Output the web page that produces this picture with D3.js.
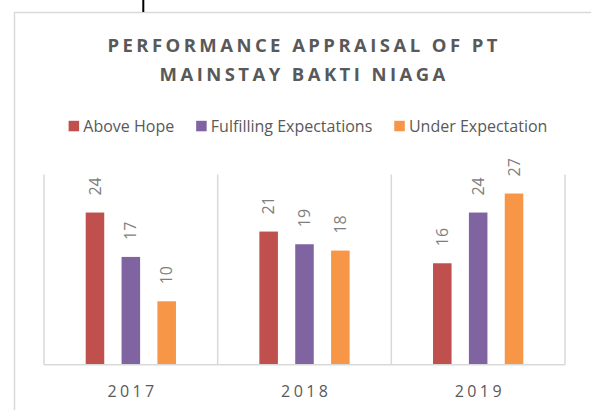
<!DOCTYPE html>
<html>
<head>
<meta charset="utf-8">
<script src="https://cdn.jsdelivr.net/npm/d3@7"></script>
<style>
	html, body { margin: 0; padding: 0; background: #fff; }
	svg { display: block; font-family: 'Open Sans', sans-serif; }
</style>
</head>
<body>
<div id="chart"></div>
<script>
const years = ['2017', '2018', '2019'];
const seriesNames = ['Above Hope', 'Fulfilling Expectations', 'Under Expectation'];
const aboveHope = [24, 21, 16];
const fulfilling = [17, 19, 24];
const underExpectation = [10, 18, 27];
const titleLines = ['PERFORMANCE APPRAISAL OF PT', 'MAINSTAY BAKTI NIAGA'];
const colors = ['#c0504d', '#8064a2', '#f79646'];

const W = 591;
const H = 410;

const svg = d3.select('#chart').append('svg').attr('width', W).attr('height', H);

// chart frame (runs off the right and bottom edge)
svg.append('rect')
	.attr('x', 14.5)
	.attr('y', 12.5)
	.attr('width', 640)
	.attr('height', 440)
	.attr('fill', '#fff')
	.attr('stroke', '#d9d9d9')
	.attr('stroke-width', 1.5);

// text cursor above the frame
svg.append('rect').attr('x', 142.3).attr('y', 0).attr('width', 2).attr('height', 12).attr('fill', '#000');

const plot = { left: 44, right: 565, top: 174.5, bottom: 364.7 };

const x0 = d3.scaleBand().domain(years).range([plot.left, plot.right]).paddingInner(0).paddingOuter(0);
const x1 = d3
	.scaleBand()
	.domain(seriesNames)
	.range([41.7, x0.bandwidth() - 41.7])
	.paddingInner(0.483)
	.paddingOuter(0);
const y = d3.scaleLinear().domain([0, 30]).range([plot.bottom, plot.top]);

const rows = years.map((yr, i) => ({
	year: yr,
	values: [aboveHope[i], fulfilling[i], underExpectation[i]].map((v, j) => ({ key: seriesNames[j], value: v, color: colors[j] }))
}));

// vertical separators
const seps = years.map((d) => x0(d)).concat([plot.right]);
svg.selectAll('.sep')
	.data(seps)
	.enter()
	.append('line')
	.attr('class', 'sep')
	.attr('x1', (d) => d)
	.attr('x2', (d) => d)
	.attr('y1', plot.top)
	.attr('y2', plot.bottom)
	.attr('stroke', '#d9d9d9')
	.attr('stroke-width', 1.5);

const groups = svg.selectAll('.grp')
	.data(rows)
	.enter()
	.append('g')
	.attr('class', 'grp')
	.attr('transform', (d) => `translate(${x0(d.year)},0)`);

groups.selectAll('rect')
	.data((d) => d.values)
	.enter()
	.append('rect')
	.attr('x', (d) => x1(d.key))
	.attr('y', (d) => y(d.value))
	.attr('width', x1.bandwidth())
	.attr('height', (d) => y(0) - y(d.value))
	.attr('fill', (d) => d.color);

groups.selectAll('.lbl')
	.data((d) => d.values)
	.enter()
	.append('text')
	.attr('class', 'lbl')
	.attr('transform', (d) => `translate(${x1(d.key) + x1.bandwidth() / 2},${y(d.value) - 17}) rotate(-90)`)
	.attr('dy', '0.35em')
	.attr('text-anchor', 'start')
	.attr('font-size', '16px')
	.attr('fill', '#7f7f7f')
	.text((d) => d.value);

// category axis line
svg.append('line')
	.attr('x1', plot.left)
	.attr('x2', plot.right)
	.attr('y1', plot.bottom)
	.attr('y2', plot.bottom)
	.attr('stroke', '#d9d9d9')
	.attr('stroke-width', 1.5);

svg.selectAll('.year')
	.data(years)
	.enter()
	.append('text')
	.attr('class', 'year')
	.attr('x', (d) => x0(d) + x0.bandwidth() / 2 + 1.7)
	.attr('y', 391)
	.attr('dy', '0.35em')
	.attr('text-anchor', 'middle')
	.attr('font-size', '16px')
	.attr('letter-spacing', '3.4px')
	.attr('fill', '#595959')
	.text((d) => d);

// title, spacing stretched so the first line is ~390px wide
const title = svg.selectAll('.title')
	.data(titleLines)
	.enter()
	.append('text')
	.attr('class', 'title')
	.attr('y', (d, i) => 46 + i * 28.5)
	.attr('dy', '0.35em')
	.attr('text-anchor', 'middle')
	.attr('font-size', '18.5px')
	.attr('font-weight', 'bold')
	.attr('fill', '#595959')
	.text((d) => d);

const natural = title.node().getComputedTextLength();
const ls = (390 - natural) / (titleLines[0].length - 1);
title.attr('letter-spacing', ls + 'px').attr('x', 302.5 + ls / 2);

// legend
const legend = svg.append('g').attr('transform', 'translate(0,126)');
const items = legend.selectAll('g')
	.data(seriesNames)
	.enter()
	.append('g');

items.append('rect')
	.attr('y', -5.2)
	.attr('width', 10.5)
	.attr('height', 10.5)
	.attr('fill', (d, i) => colors[i]);

items.append('text')
	.attr('x', 14.7)
	.attr('dy', '0.35em')
	.attr('font-size', '16px')
	.attr('fill', '#595959')
	.text((d) => d);

let cx = 0;
const offs = [];
items.each(function () {
	offs.push(cx);
	const w = d3.select(this).select('text').node().getComputedTextLength();
	cx += 14.7 + w + 22;
});
const total = cx - 22;
const start = 308 - total / 2;
items.attr('transform', (d, i) => `translate(${start + offs[i]},0)`);
</script>
</body>
</html>
